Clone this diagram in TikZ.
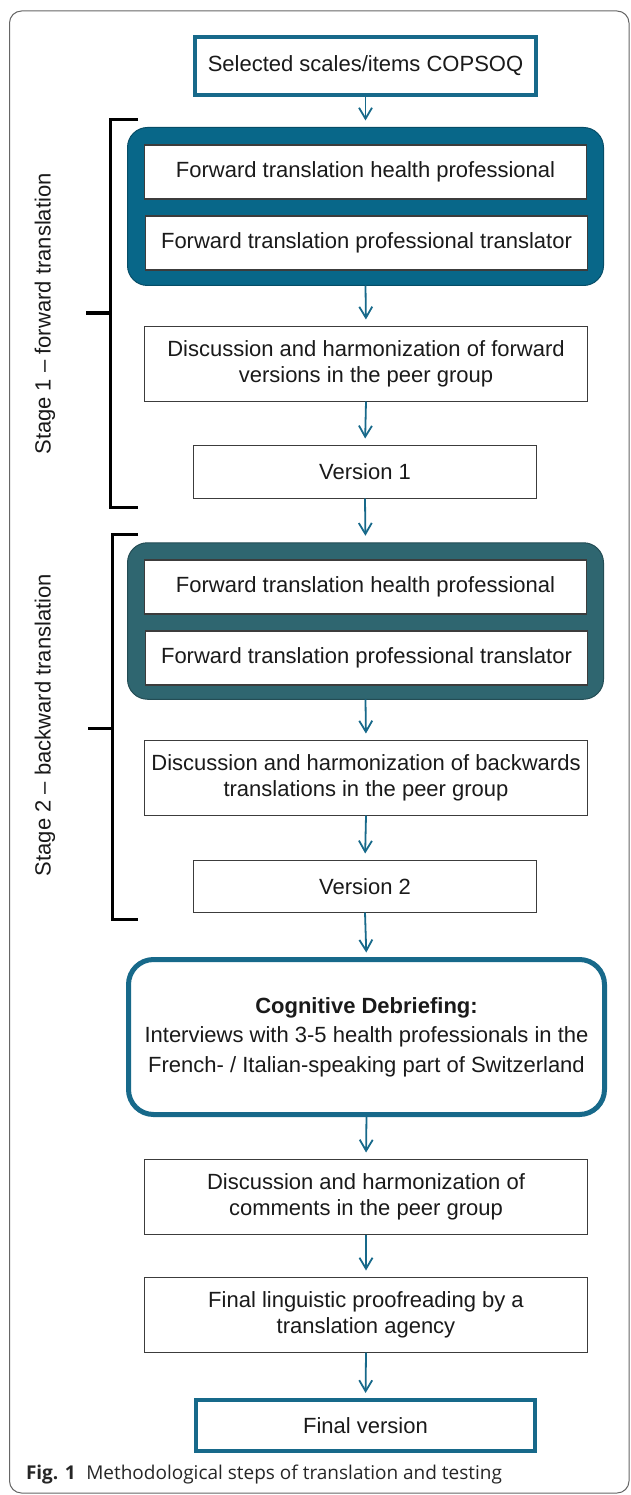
\documentclass[tikz,border=0pt]{standalone}
\usepackage{fontspec}
\setmainfont{Liberation Sans}
\newfontfamily\capfont{Open Sans}
\usetikzlibrary{arrows.meta}
\definecolor{cblue}{HTML}{086789}
\definecolor{cslate}{HTML}{2F6670}
\definecolor{cline}{HTML}{17698A}
\definecolor{ctext}{HTML}{1A1A1A}
\begin{document}
\begin{tikzpicture}[x=1pt,y=-1pt,
  every node/.style={inner sep=0pt, outer sep=0pt, text=ctext, align=center, font=\fontsize{22}{26.5}\selectfont},
  plainbox/.style={draw=ctext!85, line width=1.2pt, fill=white},
  keybox/.style={draw=cline, line width=4pt, fill=white},
  groupbox/.style={draw=#1!75!black, fill=#1, line width=1pt, rounded corners=20pt},
  flow/.style={draw=cline, line width=1.8pt, -{Straight Barb[length=11pt,width=13pt,line width=1.8pt]}, shorten >=7pt},
  bracket/.style={line width=3pt, draw=black},
  stagelabel/.style={rotate=90, text=ctext}
]
\useasboundingbox (0,0) rectangle (630,1495);
% outer frame
\draw[draw=black!60, line width=1pt, rounded corners=12pt] (9.5,11) rectangle (629,1493);

% top box
\node[keybox, minimum width=341pt, minimum height=58pt] (top) at (365.5,66) {Selected scales/items COPSOQ};

% stage 1 group
\node[groupbox=cblue, minimum width=476pt, minimum height=158pt] (g1) at (365.5,206.5) {};
\node[plainbox, minimum width=442pt, minimum height=54pt] (g1a) at (365.5,172) {Forward translation health professional};
\node[plainbox, minimum width=442pt, minimum height=54pt] (g1b) at (366.5,243) {Forward translation professional translator};
\node[plainbox, minimum width=443pt, minimum height=75pt] (d1) at (366,364) {Discussion and harmonization of forward\\versions in the peer group};
\node[plainbox, minimum width=343pt, minimum height=53pt] (v1) at (365,472) {Version 1};

% stage 2 group
\node[groupbox=cslate, minimum width=476pt, minimum height=156.5pt] (g2) at (365.5,621) {};
\node[plainbox, minimum width=442pt, minimum height=54pt] (g2a) at (365.5,587) {Forward translation health professional};
\node[plainbox, minimum width=442pt, minimum height=54pt] (g2b) at (366.5,658) {Forward translation professional translator};
\node[plainbox, minimum width=443pt, minimum height=75pt] (d2) at (366,778) {Discussion and harmonization of backwards\\translations in the peer group};
\node[plainbox, minimum width=343pt, minimum height=52pt] (v2) at (365,886.5) {Version 2};

% cognitive debriefing
\node[draw=cline, line width=5pt, fill=white, rounded corners=25pt, minimum width=476pt, minimum height=155pt, font=\fontsize{22}{29.5}\selectfont] (cog) at (366.5,1037) {\textbf{Cognitive Debriefing:}\\Interviews with 3-5 health professionals in the\\French- / Italian-speaking part of Switzerland};

\node[plainbox, minimum width=443pt, minimum height=75pt] (d3) at (366,1197) {Discussion and harmonization of\\comments in the peer group};
\node[plainbox, minimum width=443pt, minimum height=75pt] (fl) at (366,1315) {Final linguistic proofreading by a\\translation agency};
\node[keybox, minimum width=339pt, minimum height=51pt] (fin) at (365.5,1425.5) {Final version};

% arrows
\draw[flow] (top.south) -- (g1.north);
\draw[flow] (g1.south) -- (d1.north);
\draw[flow] (d1.south) -- (v1.north);
\draw[flow] (v1.south) -- (g2.north);
\draw[flow] (g2.south) -- (d2.north);
\draw[flow] (d2.south) -- (v2.north);
\draw[flow] (v2.south) -- (cog.north);
\draw[flow] (cog.south) -- (d3.north);
\draw[flow] (d3.south) -- (fl.north);
\draw[flow] (fl.south) -- (fin.north);

% brackets
\draw[bracket] (138,120) -- (110,120) -- (110,507) -- (138,507);
\draw[bracket] (86,313) -- (110,313);
\draw[bracket] (138,534) -- (112,534) -- (112,919) -- (138,919);
\draw[bracket] (88,728) -- (112,728);
\node[stagelabel] (s1) at (45,314) {Stage 1 – forward translation};
\node[stagelabel] (s2) at (45,725) {Stage 2 – backward translation};

% caption
\node[anchor=west, text=black!85, font=\capfont\fontsize{19}{22}\selectfont] (cap) at (26,1474) {\textbf{Fig. 1}\hspace{0.55em}Methodological steps of translation and testing};
\end{tikzpicture}
\end{document}
